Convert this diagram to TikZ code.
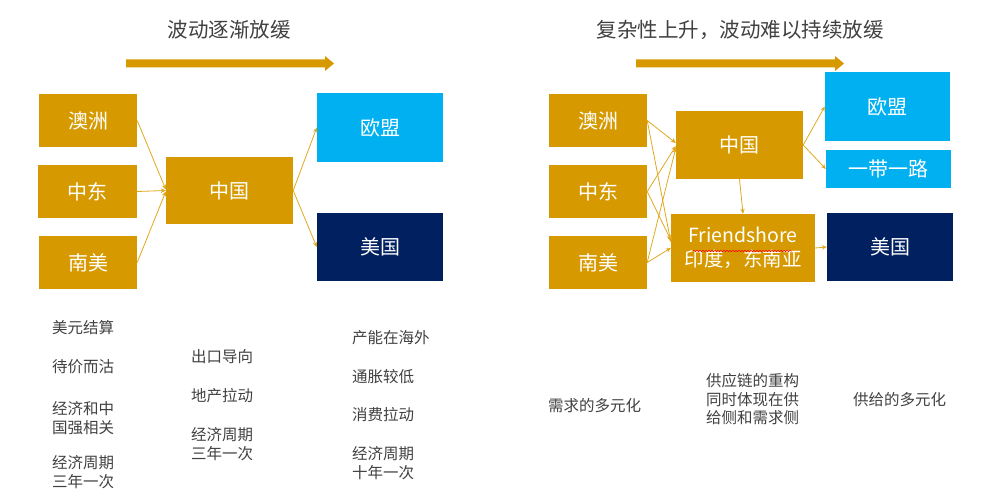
\documentclass[tikz,border=0pt]{standalone}
\usepackage{fontspec}
\setmainfont{Noto Sans CJK SC}
\usetikzlibrary{arrows.meta,decorations.pathmorphing}
\definecolor{gold}{HTML}{D69A00}
\definecolor{goldline}{HTML}{E0A820}
\definecolor{sky}{HTML}{00B0F0}
\definecolor{navy}{HTML}{002060}
\definecolor{txt}{HTML}{404040}
\tikzset{
  box/.style={rectangle, inner sep=0pt, text=white, font=\fontsize{20}{23}\selectfont},
  goldbox/.style={box, fill=gold},
  skybox/.style={box, fill=sky},
  navybox/.style={box, fill=navy},
  conn/.style={goldline, line width=0.8pt, -{Stealth[length=5pt,width=4.5pt]}},
  note/.style={anchor=west, inner sep=0pt, text=txt, align=left, font=\fontsize{15.5}{18.5}\selectfont},
  ttl/.style={inner sep=0pt, text=txt, font=\fontsize{20.5}{23}\selectfont},
  bigarrow/.style={fill=gold}
}
\begin{document}
\begin{tikzpicture}[x=1pt,y=-1pt]
\useasboundingbox (0,0) rectangle (1000,497);
% ---------- left panel ----------
\node[ttl] (t1) at (229,30) {波动逐渐放缓};
\fill[bigarrow] (126,59.5) -- (325,59.5) -- (325,56) -- (334,63.5) -- (325,71) -- (325,67.5) -- (126,67.5) -- cycle;
\node[goldbox, minimum width=98pt, minimum height=53pt] (au) at (88,120.5) {澳洲};
\node[goldbox, minimum width=99pt, minimum height=53pt] (me) at (87.5,191.5) {中东};
\node[goldbox, minimum width=98pt, minimum height=53pt] (sa) at (88,262.5) {南美};
\node[goldbox, minimum width=127pt, minimum height=67pt] (cn) at (229.5,190.5) {中国};
\node[skybox, minimum width=126pt, minimum height=69pt] (eu) at (380,127.5) {欧盟};
\node[navybox, minimum width=126pt, minimum height=68pt] (us) at (380,247) {美国};
\draw[conn] (au.east) -- ([yshift=1pt]cn.west);
\draw[conn] (me.east) -- (cn.west);
\draw[conn] (sa.east) -- ([yshift=-1pt]cn.west);
\draw[conn] (cn.east) -- (eu.west);
\draw[conn] (cn.east) -- (us.west);
\node[note] (l1) at (52,328) {美元结算};
\node[note] (l2) at (52,367) {待价而沽};
\node[note] (l3) at (52,418) {经济和中\\国强相关};
\node[note] (l4) at (52,472) {经济周期\\三年一次};
\node[note] (m1) at (191,357) {出口导向};
\node[note] (m2) at (191,396) {地产拉动};
\node[note] (m3) at (191,444) {经济周期\\三年一次};
\node[note] (r1) at (352,338) {产能在海外};
\node[note] (r2) at (352,377) {通胀较低};
\node[note] (r3) at (352,415) {消费拉动};
\node[note] (r4) at (352,463) {经济周期\\十年一次};
% ---------- right panel ----------
\node[ttl] (t2) at (740,30) {复杂性上升，波动难以持续放缓};
\fill[bigarrow] (636,59.5) -- (835,59.5) -- (835,56) -- (844,63.5) -- (835,71) -- (835,67.5) -- (636,67.5) -- cycle;
\node[goldbox, minimum width=98pt, minimum height=53pt] (au2) at (598,120.5) {澳洲};
\node[goldbox, minimum width=98pt, minimum height=53pt] (me2) at (598,191.5) {中东};
\node[goldbox, minimum width=98pt, minimum height=53pt] (sa2) at (598,262.5) {南美};
\node[goldbox, minimum width=127pt, minimum height=68pt] (cn2) at (739.5,145) {中国};
\node[skybox, minimum width=125pt, minimum height=69pt] (eu2) at (887.5,106.5) {欧盟};
\node[skybox, minimum width=125pt, minimum height=38pt] (br) at (888.5,169) {一带一路};
\node[goldbox, minimum width=144pt, minimum height=68pt, align=center, font=\fontsize{19.5}{24}\selectfont] (fs) at (743,248) {Friendshore\\印度，东南亚};
\node[navybox, minimum width=126pt, minimum height=68pt] (us2) at (890,247) {美国};
\draw[red, line width=0.5pt, decorate, decoration={snake, amplitude=0.8pt, segment length=3pt}] ([xshift=-50pt,yshift=-3pt]fs.center) -- ([xshift=49pt,yshift=-3pt]fs.center);
\draw[conn] (au2.east) -- ([yshift=2pt]cn2.west);
\draw[conn] (me2.east) -- ([yshift=-1pt]cn2.west);
\draw[conn] (sa2.east) -- ([yshift=-3pt]cn2.west);
\draw[conn] (au2.east) -- ([yshift=6pt]fs.west);
\draw[conn] (me2.east) -- ([yshift=8pt]fs.west);
\draw[conn] (sa2.east) -- (fs.west);
\draw[conn] (cn2.south) -- (fs.north);
\draw[conn] (cn2.east) -- (eu2.west);
\draw[conn] (cn2.east) -- (br.west);
\draw[conn] (fs.east) -- (us2.west);
\node[note] (n1) at (548,406) {需求的多元化};
\node[note] (n2) at (706,399.5) {供应链的重构\\同时体现在供\\给侧和需求侧};
\node[note] (n3) at (853,400) {供给的多元化};
\end{tikzpicture}
\end{document}
